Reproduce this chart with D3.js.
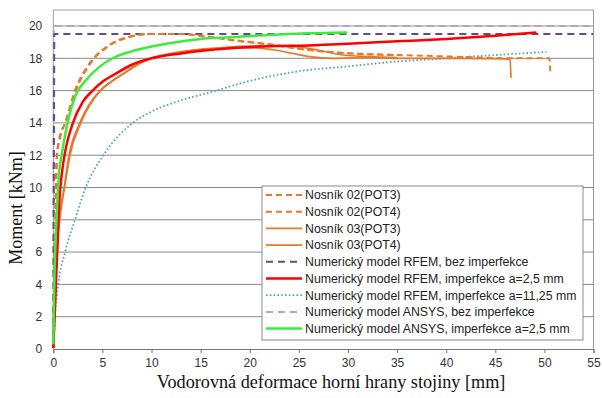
<!DOCTYPE html>
<html><head><meta charset="utf-8">
<script src="https://cdn.jsdelivr.net/npm/d3@7"></script>
<style>
body{margin:0;background:#fff;}
svg{display:block;}
</style></head>
<body>
<svg id="c" width="602" height="398"></svg>
<script>
// ---- data ----
const xTicks = [0,5,10,15,20,25,30,35,40,45,50,55];
const yTicks = [0,2,4,6,8,10,12,14,16,18,20];

const nosnik02pot3 = [[0,0],[0.1,5],[0.2,9],[0.35,12],[0.6,13],[1.2,14],[2.2,16],[3.7,17.7],[5.4,18.7],[7.8,19.35],[9.8,19.5],[13.2,19.5],[15,19.4],[18.3,19.13],[21.7,18.9],[25.1,18.6],[28.5,18.37],[31.9,18.25],[35,18.2],[41,18.1],[46.5,18.0],[50.5,18.0],[50.6,17.2]];
const nosnik02pot4 = [[0,0],[0.12,5],[0.25,9],[0.4,12],[0.7,13.1],[1.3,14.1],[2.3,16],[3.8,17.7],[5.5,18.7],[8,19.35],[10,19.5],[13,19.5],[15.5,19.35],[18.5,19.1],[22,18.85],[25.5,18.55],[29,18.35],[32,18.25],[35,18.2]];
const nosnik03pot3 = [[0,0],[0.2,4],[0.45,7],[0.7,8.5],[1.1,10],[1.6,12],[2.7,14],[4.75,16],[5.8,16.5],[7.1,17.05],[8.5,17.6],[10,18],[11.5,18.2],[13.2,18.4],[16.6,18.6],[20,18.65],[22.7,18.5],[24.4,18.3],[26.1,18.1],[28.5,18.0],[31.9,18.05],[35,18.0],[40,18.0],[44,17.98],[46.5,17.95],[46.6,16.8]];
const nosnik03pot4 = [[0,0],[0.22,4],[0.5,7],[0.75,8.5],[1.15,10],[1.7,12],[2.8,14],[4.8,16],[6,16.6],[7.3,17.1],[8.7,17.65],[10.2,18.05],[11.5,18.25],[13.5,18.45],[17,18.65],[20,18.75],[23,18.75],[25,18.7],[27,18.5],[29,18.25],[32,18.1],[35,18.05]];
const rfemBez = [[0,0],[0.1,19.5],[55,19.5]];
const rfemImp25 = [[0,0],[0.2,3],[0.4,6],[0.6,9],[0.9,11],[1.3,12.5],[2,14],[3,15.3],[4,16],[5,16.55],[6.5,17.1],[8,17.6],[10,18],[13,18.3],[17.7,18.6],[22,18.75],[26,18.8],[30,18.9],[35,19.05],[40,19.2],[45,19.4],[49.2,19.6]];
const rfemImp1125 = [[0,0],[0.17,2],[0.5,4],[1.2,6],[2.2,8],[3.3,10],[5.1,12],[8.1,14],[10,14.7],[12.5,15.3],[16,15.9],[20,16.6],[25,17.2],[30,17.5],[35,17.8],[40,18.0],[45,18.2],[50.2,18.4]];
const ansysBez = [[0,0],[0.05,20],[55,20]];
const ansysImp25 = [[0,0.3],[0.1,4],[0.25,7],[0.4,9],[0.6,11],[0.85,12],[1.45,14],[2.5,16],[3.05,16.45],[4.76,17.5],[6.2,18.05],[7.8,18.4],[11.5,18.9],[15,19.2],[18,19.3],[22,19.45],[26,19.55],[29.9,19.6]];

const seriesNames = ["Nosník 02(POT3)","Nosník 02(POT4)","Nosník 03(POT3)","Nosník 03(POT4)",
 "Numerický model RFEM, bez imperfekce","Numerický model RFEM, imperfekce a=2,5 mm",
 "Numerický model RFEM, imperfekce a=11,25 mm","Numerický model ANSYS, bez imperfekce",
 "Numerický model ANSYS, imperfekce a=2,5 mm"];
const seriesData = [nosnik02pot3,nosnik02pot4,nosnik03pot3,nosnik03pot4,rfemBez,rfemImp25,rfemImp1125,ansysBez,ansysImp25];

// ---- styles ----
const styles = [
 {c:"#E8782A",w:2,d:"6,4",curve:true},
 {c:"#E8782A",w:2,d:"6,4",curve:true},
 {c:"#E8782A",w:1.7,d:null,curve:true},
 {c:"#E8782A",w:1.7,d:null,curve:true},
 {c:"#5E4C8E",w:2,d:"7,5",curve:false},
 {c:"#FF0000",w:2.5,d:null,curve:true},
 {c:"#4BA3C3",w:1.8,d:"1.6,2.2",curve:true},
 {c:"#B3A3D3",w:2,d:"7,5",curve:false},
 {c:"#3CEB3C",w:2.5,d:null,curve:true}
];
const drawOrder = [7,4,6,2,3,0,1,5,8];

const svg = d3.select("#c");
const L=53.3, R=593.5, T=10, B=349;
const x = d3.scaleLinear().domain([0,55]).range([L,R]);
const y = d3.scaleLinear().domain([0,21]).range([B,B-21*16.15]);

// grid
svg.append("g").selectAll("line").data(yTicks.filter(d=>d>0)).join("line")
 .attr("x1",L).attr("x2",R).attr("y1",d=>y(d)).attr("y2",d=>y(d))
 .attr("stroke","#8a8a8a").attr("stroke-width",1);
// frame
svg.append("line").attr("x1",L).attr("x2",R).attr("y1",T).attr("y2",T).attr("stroke","#9a9a9a");
svg.append("line").attr("x1",R).attr("x2",R).attr("y1",T).attr("y2",B).attr("stroke","#9a9a9a");
svg.append("line").attr("x1",L).attr("x2",L).attr("y1",T).attr("y2",B).attr("stroke","#9a9a9a");

// x axis
const xa = svg.append("g").attr("transform",`translate(0,${B})`)
 .call(d3.axisBottom(x).tickValues(xTicks).tickSize(4).tickFormat(d3.format("d")));
xa.select(".domain").attr("stroke","#777");
xa.selectAll(".tick line").attr("stroke","#777");
xa.selectAll("text").attr("font-family","Liberation Sans, Arial, sans-serif").attr("font-size",12).attr("fill","#333").attr("dy","0.95em");

// y axis labels
const ya = svg.append("g").attr("transform",`translate(${L},0)`)
 .call(d3.axisLeft(y).tickValues(yTicks).tickSize(0).tickPadding(11).tickFormat(d3.format("d")));
ya.select(".domain").remove();
ya.selectAll("text").attr("font-family","Liberation Sans, Arial, sans-serif").attr("font-size",12).attr("fill","#333");

// clip
svg.append("clipPath").attr("id","pc").append("rect").attr("x",L-2).attr("y",T-2).attr("width",R-L+2).attr("height",B-T+1);

const lineCurve = d3.line().x(d=>x(d[0])).y(d=>y(d[1])).curve(d3.curveMonotoneX);
const lineLin = d3.line().x(d=>x(d[0])).y(d=>y(d[1]));

const plot = svg.append("g").attr("clip-path","url(#pc)");
drawOrder.forEach(i=>{
 const s=styles[i];
 plot.append("path").datum(seriesData[i])
  .attr("d", s.curve?lineCurve:lineLin)
  .attr("fill","none").attr("stroke",s.c).attr("stroke-width",s.w)
  .attr("stroke-dasharray",s.d).attr("stroke-linejoin","round");
});

// legend
const lx=262, ly=186, lw=321, lh=154;
svg.append("rect").attr("x",lx).attr("y",ly).attr("width",lw).attr("height",lh)
 .attr("fill","#fff").attr("stroke","#8a8a8a").attr("stroke-width",1);
const lg = svg.append("g");
seriesNames.forEach((n,i)=>{
 const yy = ly+9+i*16.7;
 const s=styles[i];
 lg.append("line").attr("x1",lx+4).attr("x2",lx+40).attr("y1",yy).attr("y2",yy)
  .attr("stroke",s.c).attr("stroke-width",s.w).attr("stroke-dasharray",s.d);
 lg.append("text").attr("x",lx+43).attr("y",yy).attr("dy","0.35em")
  .attr("font-family","Liberation Sans, Arial, sans-serif").attr("font-size",12.3).attr("fill","#222").text(n);
});

// titles
svg.append("text").attr("x",331).attr("y",388).attr("text-anchor","middle")
 .attr("font-family","Liberation Serif, Times New Roman, serif").attr("font-size",18.2).attr("fill","#111")
 .text("Vodorovná deformace horní hrany stojiny [mm]");
svg.append("text").attr("transform","translate(22,208) rotate(-90)").attr("text-anchor","middle")
 .attr("font-family","Liberation Serif, Times New Roman, serif").attr("font-size",18).attr("fill","#111")
 .text("Moment [kNm]");
</script>
</body></html>
